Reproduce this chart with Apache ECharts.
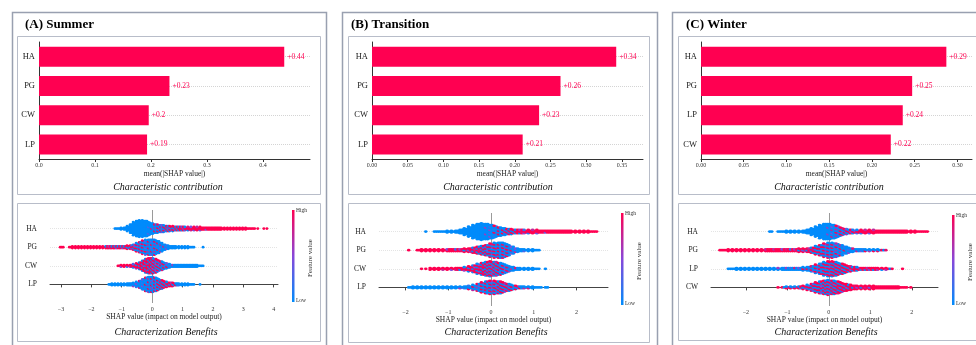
<!DOCTYPE html>
<html>
<head>
<meta charset="utf-8">
<script src="https://cdn.jsdelivr.net/npm/echarts@6/dist/echarts.min.js"></script>
<style>
  html, body { margin: 0; padding: 0; background: #fff; }
  #chart { width: 976px; height: 345px; }
</style>
</head>
<body>
<div id="chart"></div>
<script>
const FONT = 'Liberation Serif';
const RED = '#ff0051';
const MID = '#8847d9';
const BLUE = '#008bfb';

// ---- data ----
const titles = ['(A) Summer', '(B) Transition', '(C) Winter'];

const summerFeatures = ['HA', 'PG', 'CW', 'LP'];
const summerMeanShap = [0.438, 0.233, 0.196, 0.193];
const transitionFeatures = ['HA', 'PG', 'CW', 'LP'];
const transitionMeanShap = [0.342, 0.264, 0.234, 0.211];
const winterFeatures = ['HA', 'PG', 'LP', 'CW'];
const winterMeanShap = [0.287, 0.247, 0.236, 0.222];

const summerBarTicks = [0, 0.1, 0.2, 0.3, 0.4];
const transitionBarTicks = [0, 0.05, 0.1, 0.15, 0.2, 0.25, 0.3, 0.35];
const winterBarTicks = [0, 0.05, 0.1, 0.15, 0.2, 0.25, 0.3];

const summerShapTicks = [-3, -2, -1, 0, 1, 2, 3, 4];
const transitionShapTicks = [-2, -1, 0, 1, 2];
const winterShapTicks = [-2, -1, 0, 1, 2];

// beeswarm: SHAP value of the first 0.1-wide bin, dots per bin, share of high feature values per bin
const summerSwarmStart = [-1.2, -3.0, -1.1, -1.4];
const summerSwarmCount = [
  [2,2,3,4,7,12,17,20,21,21,20,17,14,12,11,10,9,8,7,7,6,6,6,5,5,5,5,5,5,4,4,4,4,4,4,3,3,3,3,3,3,3,3,3,2,2,1,1,0,1,1],
  [2,1,0,2,3,3,3,3,3,3,3,3,3,3,3,4,4,4,4,4,4,4,5,6,8,11,14,17,19,20,20,19,16,12,8,6,4,4,3,3,3,3,3,2,1,0,0,1],
  [2,3,3,3,4,5,7,10,14,18,20,20,18,15,12,9,7,5,4,4,4,4,4,4,4,4,3,2,1],
  [2,3,3,3,3,3,4,4,5,7,10,14,18,20,20,18,15,12,9,7,6,5,4,3,3,3,3,2,1,0,1]
];
const summerSwarmRed = [
  [0,0,0,0,0,0,0,0,0,0,0,.05,.1,.2,.3,.35,.4,.45,.5,.55,.6,.7,.75,.8,.85,.9,.95,.95,.95,.95,.95,.95,1,1,1,1,1,1,1,1,1,1,1,1,1,1,1,1,1,1,1],
  [1,1,1,1,1,1,1,1,1,1,1,1,1,1,.9,.8,.8,.8,.7,.7,.7,.7,.6,.6,.5,.35,.3,.25,.2,.2,.2,.2,.15,.15,.1,.1,.05,0,0,0,0,0,0,0,0,0,0,0],
  [.9,.9,.9,.85,.8,.8,.8,.75,.7,.7,.65,.6,.5,.4,.35,.3,.2,.1,.05,0,0,0,0,0,0,0,0,0,0],
  [0,0,0,0,0,0,0,0,.05,.1,.1,.1,.15,.2,.25,.3,.4,.5,.6,.7,.75,.6,.3,.1,0,0,0,.05,0,0,0]
];

const transitionSwarmStart = [-1.5, -1.9, -1.6, -1.9];
const transitionSwarmCount = [
  [1,0,2,2,2,3,3,4,6,9,13,17,20,21,20,18,15,12,10,8,7,6,6,5,5,5,5,4,4,4,4,4,4,4,3,3,3,3,3,2,1],
  [1,0,2,3,3,3,3,3,3,4,4,4,4,5,6,8,10,12,14,17,19,20,19,15,10,6,4,3,3,3,2],
  [1,1,3,3,3,3,3,3,4,4,5,7,10,13,16,18,19,18,16,13,9,6,4,3,3,3,3,2,0,1],
  [2,3,3,3,3,3,3,3,3,3,3,3,3,4,5,7,10,13,16,17,17,16,13,10,7,5,4,3,3,3,2,1,2]
];
const transitionSwarmRed = [
  [0,0,0,0,0,0,0,0,0,0,0,0,0,0,.05,.1,.15,.25,.35,.5,.6,.7,.8,.85,.9,.95,.95,.95,.95,.95,1,1,1,1,1,1,1,1,1,1,1],
  [1,1,1,1,1,1,1,1,.95,.9,.9,.85,.8,.8,.75,.7,.6,.5,.45,.4,.35,.3,.3,.25,.2,.15,.1,.05,0,0,0],
  [1,1,1,1,.95,.95,.9,.9,.85,.8,.8,.75,.7,.65,.6,.55,.5,.45,.4,.35,.3,.2,.1,.05,0,0,0,0,0,0],
  [0,0,0,0,0,0,0,0,0,0,0,.05,.05,.1,.15,.2,.25,.3,.35,.4,.45,.5,.5,.45,.4,.4,.3,.2,.1,0,0,0,0]
];

const winterSwarmStart = [-1.4, -2.6, -2.4, -1.2];
const winterSwarmCount = [
  [2,0,2,2,3,3,3,3,4,6,9,13,17,20,20,18,15,11,8,6,5,5,5,5,5,5,4,4,4,4,4,4,4,3,3,3,2,2,1],
  [2,2,3,3,3,3,3,3,3,3,3,4,4,4,4,4,4,4,4,5,5,6,8,11,14,17,19,19,17,14,10,7,5,4,4,3,3,3,3,2,1],
  [2,2,3,3,3,3,3,3,3,3,3,3,3,4,4,4,4,4,5,6,8,11,14,17,19,19,17,14,11,8,6,5,4,4,4,4,3,3,3,2,0,0,1],
  [1,2,3,3,3,4,5,7,10,13,16,18,19,18,16,13,10,8,6,5,5,5,5,5,4,4,4,4,4,3,2,1,1]
];
const winterSwarmRed = [
  [0,0,0,0,0,0,0,0,0,0,0,0,0,0,.05,.15,.25,.4,.5,.6,.7,.8,.9,.95,.95,.95,1,1,1,1,1,1,1,1,1,1,1,1,1],
  [1,1,1,1,1,1,1,1,1,1,1,.95,.95,.95,.9,.9,.85,.85,.8,.8,.75,.7,.6,.5,.4,.35,.3,.3,.25,.2,.15,.1,.1,.15,.2,.2,.25,.3,.3,.3,.3],
  [0,0,0,0,0,0,0,0,0,0,0,0,.05,.05,.05,.1,.1,.15,.2,.25,.3,.35,.4,.45,.5,.5,.55,.55,.6,.65,.7,.7,.7,.7,.75,.75,.8,.8,.8,.8,1,1,1],
  [.2,.5,.6,.6,.6,.6,.55,.55,.5,.5,.5,.5,.5,.55,.6,.65,.7,.75,.8,.85,.9,.9,.95,.95,1,1,1,1,1,1,1,1,1]
];

// ---- layout (pixels) ----
const panelLayout = [
  { outer: [12, 12, 314, 340], barBox: [17, 36, 303, 158], beeBox: [17, 203, 303, 138], titleX: 25,
    barGrid: { left: 39, top: 42, width: 271, height: 117 }, barMax: 0.484, digits: 1,
    beeGrid: { left: 50, top: 210, width: 228, height: 93 }, beeMin: -3.36, beeMax: 4.14,
    capX: 168, benX: 166, cbX: 292, cbTop: 210, cbBottom: 302, fvX: 310 },
  { outer: [342, 12, 315, 340], barBox: [348, 36, 301, 158], beeBox: [348, 203, 301, 139], titleX: 351,
    barGrid: { left: 372, top: 42, width: 271, height: 117 }, barMax: 0.3795, digits: 2,
    beeGrid: { left: 379, top: 213, width: 229, height: 93 }, beeMin: -2.62, beeMax: 2.74,
    capX: 498, benX: 496, cbX: 621, cbTop: 213, cbBottom: 305, fvX: 639 },
  { outer: [672, 12, 330, 340], barBox: [678, 36, 320, 158], beeBox: [678, 203, 320, 137], titleX: 686,
    barGrid: { left: 701, top: 42, width: 271, height: 117 }, barMax: 0.317, digits: 2,
    beeGrid: { left: 711, top: 213, width: 227, height: 93 }, beeMin: -2.84, beeMax: 2.63,
    capX: 829, benX: 826, cbX: 952, cbTop: 215, cbBottom: 305, fvX: 970 }
];

const barSets = [
  [summerFeatures, summerMeanShap, summerBarTicks],
  [transitionFeatures, transitionMeanShap, transitionBarTicks],
  [winterFeatures, winterMeanShap, winterBarTicks]
];
const swarmSets = [
  [summerSwarmStart, summerSwarmCount, summerSwarmRed, summerShapTicks],
  [transitionSwarmStart, transitionSwarmCount, transitionSwarmRed, transitionShapTicks],
  [winterSwarmStart, winterSwarmCount, winterSwarmRed, winterShapTicks]
];

const BIN = 0.1;
const DOT_GAP = 1.65 / 18.6; // vertical step between stacked dots, in row units
const BAYER = [[0, 8, 2, 10], [12, 4, 14, 6], [3, 11, 1, 9], [15, 7, 13, 5]];

// stack the dots of each bin in two columns; ordered dither mixes colours by the red share
function swarmPoints(starts, counts, reds) {
  const pts = [];
  const nRows = starts.length;
  starts.forEach((start, row) => {
    const y0 = nRows - 1 - row;
    counts[row].forEach((n, b) => {
      const x = start + b * BIN;
      const f = reds[row][b];
      for (let k = 0; k < n; k++) {
        const col = k % 2;
        const m = col ? Math.floor(n / 2) : Math.ceil(n / 2);
        const j = Math.floor(k / 2);
        const dy = (j - (m - 1) / 2) * DOT_GAP;
        let v;
        if (f <= 0) v = 0;
        else if (f >= 1) v = 1;
        else {
          const d = (BAYER[(j + row) % 4][(2 * b + col) % 4] + 0.5) / 16;
          v = Math.min(1, Math.max(0, 0.5 + (d - (1 - f)) * 5));
        }
        pts.push([x + (col ? 0.025 : -0.025), y0 + dy, v]);
      }
    });
  });
  return pts;
}

const minus = v => String(v).replace('-', '\u2212');
const textStyle = (size, extra) => Object.assign({ fontFamily: FONT, fontSize: size, color: '#222' }, extra || {});

function text(x, y, str, size, extra) {
  const e = extra || {};
  return {
    type: 'text', x: x, y: y, rotation: e.rotation || 0, silent: true, z: 10,
    style: {
      text: str, fontFamily: FONT, fontSize: size,
      fontStyle: e.fontStyle || 'normal', fontWeight: e.fontWeight || 'normal',
      fill: e.fill || '#222',
      align: e.align || 'left', textAlign: e.align || 'left',
      verticalAlign: 'middle', textVerticalAlign: 'middle'
    }
  };
}
function box(r, stroke, width) {
  return { type: 'rect', silent: true, z: 0, shape: { x: r[0] + 0.5, y: r[1] + 0.5, width: r[2], height: r[3] },
    style: { fill: 'none', stroke: stroke, lineWidth: width } };
}

const grids = [], xAxes = [], yAxes = [], series = [], graphics = [], pointSeries = [];

panelLayout.forEach((L, p) => {
  const [features, meanShap, barTicks] = barSets[p];
  const [starts, counts, reds, shapTicks] = swarmSets[p];
  const pxPerUnit = L.beeGrid.width / (L.beeMax - L.beeMin);

  graphics.push(box(L.outer, '#99a0b0', 1.5));
  graphics.push(box(L.barBox, '#b8bdc9', 1));
  graphics.push(box(L.beeBox, '#b8bdc9', 1));
  graphics.push(text(L.titleX, 25, titles[p], 13, { fontWeight: 'bold', fill: '#000' }));
  graphics.push(text(L.capX, 187, 'Characteristic contribution', 10, { fontStyle: 'italic', align: 'center', fill: '#111' }));
  graphics.push(text(L.benX, 332, 'Characterization Benefits', 10, { fontStyle: 'italic', align: 'center', fill: '#111' }));

  // colour bar
  graphics.push({ type: 'rect', silent: true, z: 5,
    shape: { x: L.cbX, y: L.cbTop, width: 2.5, height: L.cbBottom - L.cbTop },
    style: { fill: { type: 'linear', x: 0, y: 0, x2: 0, y2: 1,
      colorStops: [{ offset: 0, color: RED }, { offset: 0.5, color: MID }, { offset: 1, color: BLUE }] } } });
  graphics.push(text(L.cbX + 4, L.cbTop + 1, 'High', 5.5, { fill: '#333' }));
  graphics.push(text(L.cbX + 4, L.cbBottom - 1, 'Low', 5.5, { fill: '#333' }));
  graphics.push(text(L.fvX, (L.cbTop + L.cbBottom) / 2 + 2, 'Feature value', 7, { rotation: Math.PI / 2, align: 'center', fill: '#333' }));

  // bar chart
  const gb = grids.length;
  grids.push(Object.assign({ outerBoundsMode: 'none', containLabel: false }, L.barGrid));
  xAxes.push({
    type: 'value', gridIndex: gb, min: 0, max: L.barMax,
    axisLine: { show: true, lineStyle: { color: '#333', width: 1 } },
    axisTick: { show: true, length: 3, customValues: barTicks, lineStyle: { color: '#333' } },
    axisLabel: { customValues: barTicks, margin: 3, formatter: v => v.toFixed(L.digits), ...textStyle(6, { color: '#333' }) },
    splitLine: { show: false },
    name: 'mean(|SHAP value|)', nameLocation: 'middle', nameGap: 11,
    nameTextStyle: textStyle(7.5)
  });
  yAxes.push({
    type: 'category', gridIndex: gb, data: features, inverse: true,
    axisLine: { show: true, lineStyle: { color: '#333', width: 1 } },
    axisTick: { show: false },
    axisLabel: { margin: 4, ...textStyle(8.5) },
    splitLine: { show: false }
  });
  series.push({
    type: 'line', xAxisIndex: gb, yAxisIndex: gb, data: [], z: 1, silent: true,
    markLine: { silent: true, z: 1, symbol: 'none', label: { show: false },
      lineStyle: { color: '#d4d4d4', type: 'dotted', width: 1 },
      data: features.map((_, i) => ({ yAxis: i })) }
  });
  series.push({
    type: 'bar', xAxisIndex: gb, yAxisIndex: gb, data: meanShap, barWidth: 20, z: 3,
    itemStyle: { color: RED }, silent: true,
    label: { show: true, position: 'right', distance: 3,
      formatter: d => '+' + Number(d.value.toFixed(2)), ...textStyle(7.5, { color: RED }) }
  });

  // beeswarm
  const gs = grids.length;
  grids.push(Object.assign({ outerBoundsMode: 'none', containLabel: false }, L.beeGrid));
  xAxes.push({
    type: 'value', gridIndex: gs, min: L.beeMin, max: L.beeMax,
    axisLine: { show: true, lineStyle: { color: '#444', width: 1 } },
    axisTick: { show: true, length: 3, customValues: shapTicks, lineStyle: { color: '#444' } },
    axisLabel: { customValues: shapTicks, margin: 3, formatter: minus, ...textStyle(6, { color: '#333' }) },
    splitLine: { show: false },
    name: 'SHAP value (impact on model output)', nameLocation: 'middle', nameGap: 10.5,
    nameTextStyle: textStyle(7.5)
  });
  yAxes.push({
    type: 'value', gridIndex: gs, min: -1, max: 4, interval: 1,
    axisLine: { show: false }, axisTick: { show: false },
    axisLabel: { margin: 13, formatter: v => (v >= 0 && v < features.length) ? features[features.length - 1 - v] : '', ...textStyle(7.5) },
    splitLine: { show: true, showMinLine: false, showMaxLine: false, lineStyle: { color: '#e4e4e4', type: 'dotted', width: 1 } }
  });
  series.push({
    type: 'scatter', xAxisIndex: gs, yAxisIndex: gs, data: [], z: 1, silent: true,
    markLine: { silent: true, z: 1, symbol: 'none', label: { show: false },
      lineStyle: { color: '#9a9a9a', type: 'solid', width: 1 }, data: [{ xAxis: 0 }] }
  });
  pointSeries.push(series.length);
  series.push({
    type: 'scatter', xAxisIndex: gs, yAxisIndex: gs, z: 2, silent: true,
    symbolSize: [Math.max(2.8, pxPerUnit * 0.05 + 1.4), 2.7], progressive: 0, large: false,
    itemStyle: { opacity: 1 },
    data: swarmPoints(starts, counts, reds)
  });
});

const chart = echarts.init(document.getElementById('chart'));
chart.setOption({
  backgroundColor: '#ffffff',
  animation: false,
  grid: grids,
  xAxis: xAxes,
  yAxis: yAxes,
  visualMap: {
    type: 'continuous', show: false, min: 0, max: 1, dimension: 2,
    seriesIndex: pointSeries, inRange: { color: [BLUE, MID, RED] }
  },
  graphic: { elements: graphics },
  series: series
});
</script>
</body>
</html>
